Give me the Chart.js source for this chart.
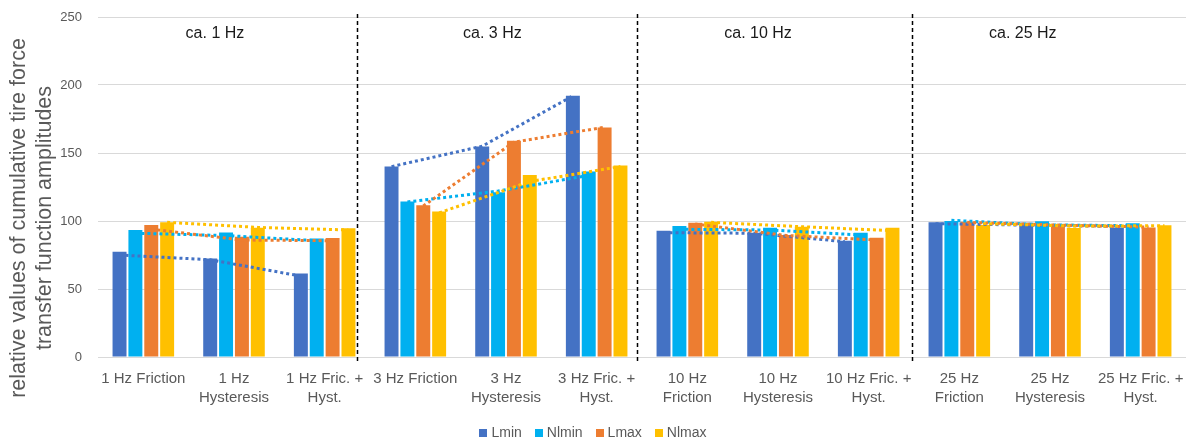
<!DOCTYPE html>
<html>
<head>
<meta charset="utf-8">
<script src="https://cdn.jsdelivr.net/npm/chart.js@4.4.1/dist/chart.umd.min.js"></script>
<style>
  html, body { margin: 0; padding: 0; background: #fff; }
  #wrap { width: 1186px; height: 441px; position: relative; }
</style>
</head>
<body>
<div id="wrap"><canvas id="chart"></canvas></div>
<script>
// --- Data ---
const categories = [
  '1 Hz Friction', ['1 Hz', 'Hysteresis'], ['1 Hz Fric. +', 'Hyst.'],
  '3 Hz Friction', ['3 Hz', 'Hysteresis'], ['3 Hz Fric. +', 'Hyst.'],
  ['10 Hz', 'Friction'], ['10 Hz', 'Hysteresis'], ['10 Hz Fric. +', 'Hyst.'],
  ['25 Hz', 'Friction'], ['25 Hz', 'Hysteresis'], ['25 Hz Fric. +', 'Hyst.'],
];
const seriesNames = ['Lmin', 'Nlmin', 'Lmax', 'Nlmax'];

const lmin  = [77.4, 72.5, 61.4, 140, 154.8, 192.1, 92.9, 91.4, 85.5, 99, 98.8, 95.2];
const nlmin = [93.4, 91.6, 87.2, 114.3, 121.1, 136.4, 96.3, 95.1, 91.4, 100, 99.8, 98.3];
const lmax  = [97, 88.5, 87.5, 111.5, 159, 168.8, 98.8, 89.7, 87.7, 99.5, 96.3, 95.3];
const nlmax = [99, 95.1, 94.6, 106.9, 133.9, 140.8, 99.5, 95.8, 95.1, 97, 94.8, 96.8];

// dotted trend lines, one polyline per frequency group of three
const lminTrend  = [75, 71.5, 59.5, 140, 155, 192, 91.4, 91, 84.8, 98, 97, 96];
const nlminTrend = [91, 89.3, 85.5, 114, 122, 133.5, 93.9, 93.4, 89.7, 100.5, 97.2, 96.5];
const lmaxTrend  = [94, 86, 85.5, 111, 158, 169, 97.8, 89.4, 86, 99, 97, 95.5];
const nlmaxTrend = [99, 95.3, 93.4, 106, 129, 140, 99, 95.8, 92.9, 98, 96.3, 96.5];

const yTicks = [0, 50, 100, 150, 200, 250];
const sectionLabels = ['ca. 1 Hz', 'ca. 3 Hz', 'ca. 10 Hz', 'ca. 25 Hz'];
const sectionLabelPos = [0.79, 3.85, 6.78, 9.70];   // in category units
const separatorPos = [2.357, 5.445, 8.478];          // in category units

const COLORS = ['#4472C4', '#00B0F0', '#ED7D31', '#FFC000'];
const TEXT = '#595959';
const FONT = "'Liberation Sans', Arial, sans-serif";

const values = [lmin, nlmin, lmax, nlmax];
const trends = [lminTrend, nlminTrend, lmaxTrend, nlmaxTrend];

function catToPx(x, pos) {
  const p0 = x.getPixelForValue(0), p1 = x.getPixelForValue(1);
  return p0 + pos * (p1 - p0);
}

const overlay = {
  id: 'overlay',
  afterDatasetsDraw(chart) {
    const { ctx, scales: { x, y }, chartArea } = chart;
    ctx.save();
    // trend lines
    ctx.lineWidth = 3;
    ctx.setLineDash([3, 3]);
    trends.forEach((tr, i) => {
      const meta = chart.getDatasetMeta(i);
      ctx.strokeStyle = COLORS[i];
      for (let g = 0; g < tr.length; g += 3) {
        ctx.beginPath();
        for (let k = g; k < g + 3; k++) {
          const px = meta.data[k].x, py = y.getPixelForValue(tr[k]);
          if (k === g) ctx.moveTo(px, py); else ctx.lineTo(px, py);
        }
        ctx.stroke();
      }
    });
    // group separators
    ctx.strokeStyle = '#000';
    ctx.lineWidth = 1.5;
    ctx.setLineDash([4, 3]);
    separatorPos.forEach(p => {
      const px = Math.round(catToPx(x, p)) + 0.5;
      ctx.beginPath();
      ctx.moveTo(px, chartArea.top - 3);
      ctx.lineTo(px, chartArea.bottom + 4);
      ctx.stroke();
    });
    ctx.setLineDash([]);
    // section labels
    ctx.fillStyle = '#1a1a1a';
    ctx.font = '16px ' + FONT;
    ctx.textAlign = 'center';
    ctx.textBaseline = 'middle';
    sectionLabels.forEach((t, i) => ctx.fillText(t, catToPx(x, sectionLabelPos[i]), 34));
    ctx.restore();
  },
  afterDraw(chart) {
    const { ctx } = chart;
    ctx.save();
    // y axis title, two lines
    ctx.fillStyle = TEXT;
    ctx.font = '21.5px ' + FONT;
    ctx.textAlign = 'center';
    ctx.textBaseline = 'middle';
    ctx.translate(0, 218);
    ctx.rotate(-Math.PI / 2);
    ctx.fillText('relative values of cumulative tire force', 0, 19);
    ctx.fillText('transfer function amplitudes', 0, 45);
    ctx.restore();

    // legend
    ctx.save();
    ctx.font = '14px ' + FONT;
    ctx.textBaseline = 'middle';
    ctx.textAlign = 'left';
    const box = 8, gapText = 4, gapItem = 13, ly = 433;
    const widths = seriesNames.map(n => box + gapText + ctx.measureText(n).width);
    const total = widths.reduce((a, b) => a + b, 0) + gapItem * (widths.length - 1);
    let lx = chart.width / 2 - total / 2;
    seriesNames.forEach((n, i) => {
      ctx.fillStyle = COLORS[i];
      ctx.fillRect(Math.round(lx), ly - box / 2, box, box);
      ctx.fillStyle = TEXT;
      ctx.fillText(n, lx + box + gapText, ly);
      lx += widths[i] + gapItem;
    });
    ctx.restore();
  }
};

new Chart(document.getElementById('chart'), {
  type: 'bar',
  data: {
    labels: categories,
    datasets: seriesNames.map((name, i) => ({
      label: name,
      data: values[i],
      backgroundColor: COLORS[i],
      borderWidth: 0,
      categoryPercentage: 0.7,
      barPercentage: 0.88,
    })),
  },
  options: {
    responsive: true, maintainAspectRatio: false,
    animation: false,
    layout: { padding: { top: 17, right: 0, left: 0, bottom: 0 } },
    plugins: {
      legend: { display: false },
      tooltip: { enabled: false },
    },
    scales: {
      x: {
        grid: { display: false, drawTicks: true, tickLength: 12, tickColor: 'rgba(0,0,0,0)' },
        border: { display: false },
        ticks: { color: TEXT, font: { family: FONT, size: 15, lineHeight: 1.3 }, padding: 0, maxRotation: 0, autoSkip: false },
        afterFit: s => { s.height = 84; },
      },
      y: {
        min: 0, max: 250,
        afterBuildTicks: s => { s.ticks = yTicks.map(v => ({ value: v })); },
        grid: { color: '#d9d9d9', lineWidth: 1, drawTicks: true, tickLength: 16, tickColor: 'rgba(0,0,0,0)' },
        border: { display: false },
        ticks: { color: TEXT, font: { family: FONT, size: 13 }, padding: 0 },
        afterFit: s => { s.width = 98; },
      },
    },
  },
  plugins: [overlay],
});
</script>
</body>
</html>
